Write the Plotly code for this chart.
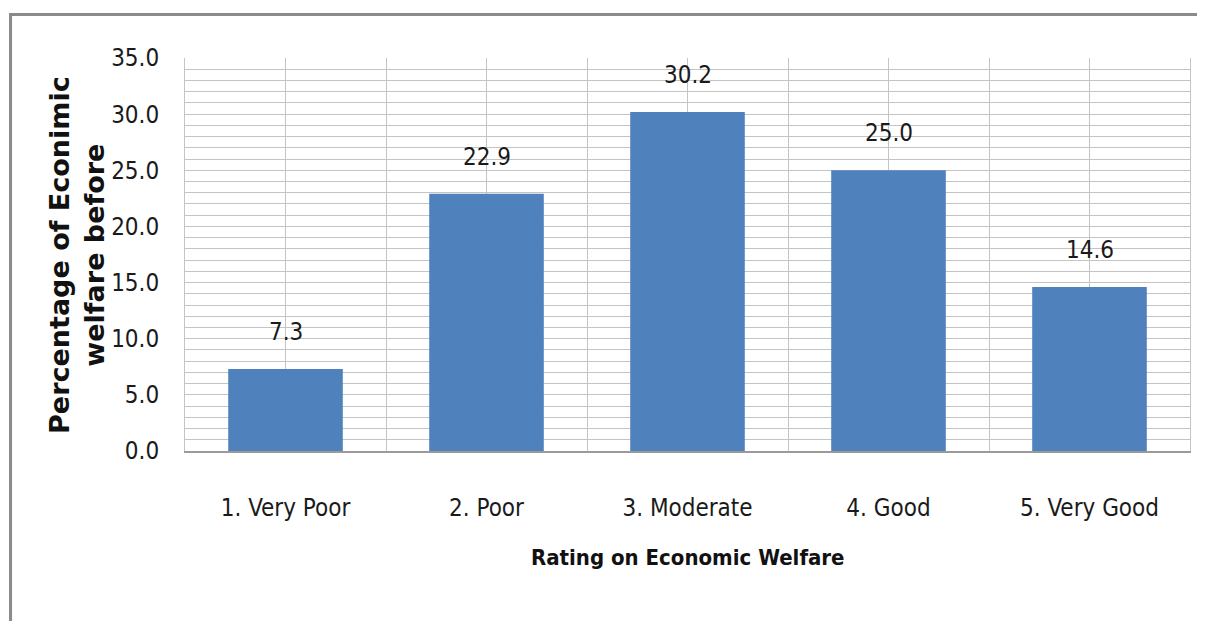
import plotly.graph_objects as go

categories = ['1. Very Poor', '2. Poor', '3. Moderate', '4. Good', '5. Very Good']
percentages = [7.3, 22.9, 30.2, 25.0, 14.6]
y_ticks = [0, 5, 10, 15, 20, 25, 30, 35]

FONT = 'DejaVu Sans Condensed, Liberation Sans Narrow, Arial Narrow, sans-serif'
TITLE_FONT = 'DejaVu Sans, Verdana, sans-serif'
BAR_COLOR = '#4F81BD'
GRID = '#C4C4C4'

xpos = list(range(len(categories)))

fig = go.Figure()
fig.add_trace(go.Bar(x=xpos, y=percentages, width=0.57,
                     marker=dict(color=BAR_COLOR, line=dict(width=0)),
                     hoverinfo='x+y'))

# value labels sitting well above each bar, Excel style
for x, v in zip(xpos, percentages):
    fig.add_annotation(x=x, y=v, text=f'{v:.1f}', showarrow=False,
                       yanchor='middle', yshift=37,
                       font=dict(family=FONT, size=24, color='#1a1a1a'))

# axis titles
fig.add_annotation(xref='paper', yref='paper', x=-0.108, y=0.5,
                   text='<b>Percentage of Econimic<br>welfare before</b>',
                   textangle=-90, showarrow=False, xanchor='center', yanchor='middle',
                   font=dict(family=TITLE_FONT, size=27, color='#111'))
fig.add_annotation(xref='paper', yref='paper', x=0.5, y=-0.27,
                   text='<b>Rating on Economic Welfare</b>', showarrow=False,
                   xanchor='center', yanchor='middle',
                   font=dict(family=FONT, size=22, color='#111'))

# outer chart frame
fig.add_shape(type='rect', xref='paper', yref='paper',
              x0=-0.1736, x1=1.1, y0=-0.6, y1=1.1107,
              line=dict(color='#8a8a8a', width=3), layer='below')

# page body adds an 8px offset, so the figure is 8px smaller on each side
fig.update_layout(
    width=1197, height=613,
    margin=dict(l=177, r=15, t=50, b=170),
    paper_bgcolor='white', plot_bgcolor='white',
    showlegend=False,
    font=dict(family=FONT, size=24, color='#1a1a1a'),
)
fig.update_xaxes(
    range=[-0.5, 4.5], tickvals=xpos, ticktext=categories,
    showgrid=True, gridcolor=GRID, gridwidth=1,
    minor=dict(tick0=0.5, dtick=1, showgrid=True, gridcolor=GRID, gridwidth=1),
    showline=True, linecolor='#9a9a9a', linewidth=2,
    ticks='', ticklabelstandoff=34, zeroline=False,
    tickfont=dict(family=FONT, size=24, color='#1a1a1a'),
)
fig.update_yaxes(
    range=[0, 35], tickvals=y_ticks, ticktext=[f'{t:.1f}' for t in y_ticks],
    showgrid=True, gridcolor=GRID, gridwidth=1,
    minor=dict(dtick=1, showgrid=True, gridcolor=GRID, gridwidth=1),
    showline=True, linecolor=GRID, linewidth=1, mirror=True,
    ticks='', ticklabelstandoff=20, zeroline=False,
    tickfont=dict(family=FONT, size=24, color='#1a1a1a'),
)

fig.write_html('out.html')
